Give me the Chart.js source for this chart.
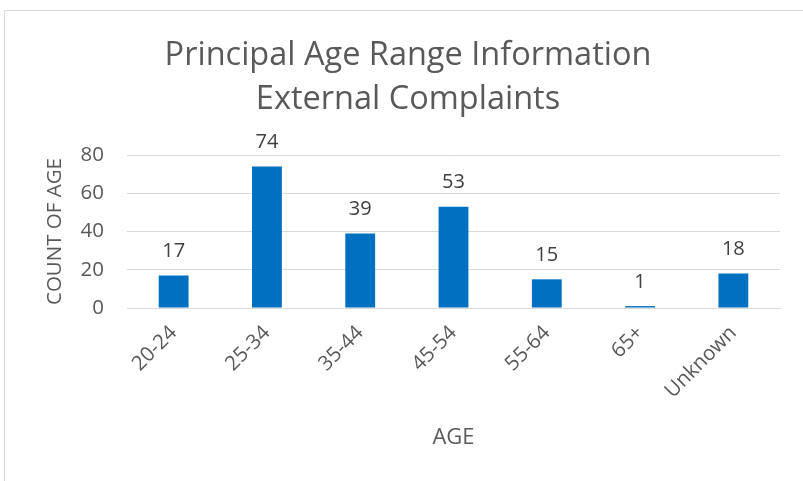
<!DOCTYPE html>
<html><head><meta charset="utf-8">
<script src="https://cdn.jsdelivr.net/npm/chart.js@4/dist/chart.umd.min.js"></script>
<style>
html,body{margin:0;padding:0;background:#fff;overflow:hidden}
#wrap{position:absolute;left:0;top:0;width:803px;height:481px}
#frame{position:absolute;left:4px;top:10px;width:820px;height:500px;border:1px solid #d9d9d9;box-sizing:border-box}
canvas{position:absolute;left:0;top:0}
</style></head><body>
<div id="wrap"><div id="frame"></div><canvas id="c" width="803" height="481"></canvas></div>
<script>
const categories = ["20-24","25-34","35-44","45-54","55-64","65+","Unknown"];
const counts = [17,74,39,53,15,1,18];
const yTicks = [0,20,40,60,80];
const titleLines = ["Principal Age Range Information","External Complaints"];
const FONT = "'Open Sans', sans-serif";

const labelPlugin = {
  id:'barLabels',
  afterDatasetsDraw(chart){
    const ctx = chart.ctx;
    const meta = chart.getDatasetMeta(0);
    ctx.save();
    ctx.font = "20px " + FONT;
    ctx.fillStyle = "#404040";
    ctx.textAlign = "center";
    ctx.textBaseline = "middle";
    meta.data.forEach((bar,i)=>{
      ctx.fillText(String(counts[i]), bar.x, bar.y - 24);
    });
    ctx.restore();
  }
};

new Chart(document.getElementById('c'), {
  type:'bar',
  data:{labels:categories, datasets:[{data:counts, backgroundColor:'#0070C0', barPercentage:0.64, categoryPercentage:0.5}]},
  options:{
    responsive:false, animation:false,
    layout:{padding:{left:36,right:23,top:10,bottom:0}},
    plugins:{
      legend:{display:false},
      tooltip:{enabled:false},
      title:{display:true, text:titleLines, color:'#595959', font:{family:FONT,size:32.5,weight:'normal',lineHeight:1.354}, padding:{top:24,bottom:33}}
    },
    scales:{
      x:{
        afterFit(s){ s.height = 173; },
        grid:{display:false},
        border:{display:true,color:'#d9d9d9',width:1},
        ticks:{color:'#595959',font:{family:FONT,size:20.5},minRotation:45,maxRotation:45,padding:5},
        title:{display:true,text:'AGE',color:'#595959',font:{family:FONT,size:22},padding:{top:0,bottom:30}}
      },
      y:{
        min:0,max:80,
        afterFit(s){ s.width = 91; },
        afterBuildTicks(s){ s.ticks = yTicks.map(v=>({value:v})); },
        grid:{color:'#d9d9d9',drawTicks:false},
        border:{display:false},
        ticks:{color:'#595959',font:{family:FONT,size:20.5},padding:23},
        title:{display:true,text:'COUNT OF AGE',color:'#595959',font:{family:FONT,size:20.5},padding:{top:7,bottom:0}}
      }
    }
  },
  plugins:[labelPlugin]
});
</script>
</body></html>
